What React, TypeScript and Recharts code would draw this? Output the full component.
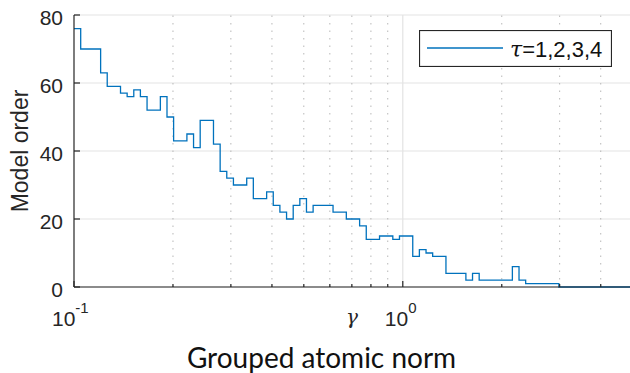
import React from "react";
import { CartesianGrid, Legend, Line, LineChart, ReferenceLine, XAxis, YAxis } from "recharts";

// gamma grid (log spaced, 0.1 .. ~5) and the model order picked at each gamma
const gamma = [
  0.1, 0.1048, 0.1097, 0.115, 0.1205, 0.1262, 0.1322, 0.1385, 0.1451, 0.152,
  0.1592, 0.1668, 0.1748, 0.1831, 0.1918, 0.2009, 0.2105, 0.2205, 0.231, 0.242,
  0.2535, 0.2656, 0.2783, 0.2915, 0.3054, 0.3199, 0.3352, 0.3511, 0.3678, 0.3854,
  0.4037, 0.4229, 0.4431, 0.4642, 0.4863, 0.5094, 0.5337, 0.5591, 0.5857, 0.6136,
  0.6428, 0.6734, 0.7055, 0.7391, 0.7743, 0.8111, 0.8498, 0.8902, 0.9326, 0.977,
  1.0235, 1.0723, 1.1233, 1.1768, 1.2328, 1.2915, 1.353, 1.4175, 1.485, 1.5557,
  1.6298, 1.7074, 1.7886, 1.8738, 1.963, 2.0565, 2.1544, 2.257, 2.3645, 2.4771,
  2.595, 2.7186, 2.848, 2.9836, 3.1257, 3.2745, 3.4305, 3.5938, 3.7649, 3.9442,
  4.132, 4.3288, 4.5349, 4.7508, 4.977,
];

const modelOrder = [
  76, 70, 70, 70, 63, 59, 59, 57, 56, 58,
  56, 52, 52, 56, 50, 43, 43, 45, 41, 49,
  49, 42, 34, 32, 30, 30, 32, 26, 26, 28,
  24, 22, 20, 24, 26, 22, 24, 24, 24, 22,
  22, 20, 20, 18, 14, 14, 15, 15, 14, 15,
  15, 9, 11, 10, 9, 9, 4, 4, 4, 2,
  4, 2, 2, 2, 2, 2, 6, 2, 1, 1,
  1, 1, 1, 0, 0, 0, 0, 0, 0, 0,
  0, 0, 0, 0, 0,
];

const xTicks = [0.1, 0.2, 0.3, 0.4, 0.5, 0.6, 0.7, 0.8, 0.9, 1, 2, 3, 4];
const minorGrid = [0.2, 0.3, 0.4, 0.5, 0.6, 0.7, 0.8, 0.9, 2, 3, 4];
const majorGrid = [1];
const yTicks = [0, 20, 40, 60, 80];
const seriesName = "=1,2,3,4";

const data = gamma.map((g, i) => ({ gamma: g, order: modelOrder[i] }));

const AXIS = "#262626";
const BLUE = "#0072BD";
const SANS = "Arial, 'Liberation Sans', Helvetica, sans-serif";

function GammaTick(props: any) {
  const { x, y, payload } = props;
  const v = payload.value;
  const major = v === 0.1 || v === 1;
  return (
    <g>
      <line x1={x} x2={x} y1={y} y2={y - (major ? 6 : 3)} stroke={AXIS} strokeWidth={1.2} />
      {major ? (
        <text x={x + (v === 1 ? -18 : -22)} y={y + 39} fill={AXIS} style={{ fontFamily: SANS }} fontSize={21}>
          <tspan>10</tspan>
          <tspan dy={-13} fontSize={15}>
            {v === 1 ? "0" : "-1"}
          </tspan>
        </text>
      ) : null}
    </g>
  );
}

function OrderTick(props: any) {
  const { x, y, payload } = props;
  return (
    <g>
      <line x1={x} x2={x + 6} y1={y} y2={y} stroke={AXIS} strokeWidth={1.2} />
      <text x={x - 11} y={y + 10} textAnchor="end" fill={AXIS} style={{ fontFamily: SANS }} fontSize={21}>
        {payload.value}
      </text>
    </g>
  );
}

function XLabel(props: any) {
  const vb = props.viewBox || { x: 74, y: 287 };
  return (
    <g>
      <text
        x={vb.x + 272}
        y={vb.y + 37}
        fill={AXIS}
        style={{ fontFamily: "'DejaVu Serif', serif", fontStyle: "italic" }}
        fontSize={20}
      >
        γ
      </text>
      <text
        x={vb.x + 247.5}
        y={vb.y + 81}
        textAnchor="middle"
        fill="#111"
        style={{ fontFamily: "Lato, sans-serif" }}
        fontSize={28}
      >
        Grouped atomic norm
      </text>
    </g>
  );
}

function YLabel(props: any) {
  const vb = props.viewBox || { x: 0, y: 15, height: 272 };
  const cy = vb.y + vb.height / 2;
  return (
    <text
      x={28}
      y={cy}
      transform={`rotate(-90, 28, ${cy})`}
      textAnchor="middle"
      fill={AXIS}
      style={{ fontFamily: SANS }}
      fontSize={23}
    >
      Model order
    </text>
  );
}

function LegendBox() {
  return (
    <svg width={193} height={37} style={{ display: "block" }}>
      <rect x={0.5} y={0.5} width={192} height={36} fill="#fff" stroke={AXIS} strokeWidth={1.2} />
      <line x1={8} x2={84} y1={18} y2={18} stroke={BLUE} strokeWidth={1.3} />
      <text x={91} y={27} fill="#111" fontSize={22}>
        <tspan style={{ fontFamily: "'DejaVu Serif', serif", fontStyle: "italic" }}>τ</tspan>
        <tspan style={{ fontFamily: SANS }}>{seriesName}</tspan>
      </text>
    </svg>
  );
}

export default function App() {
  return (
    <div style={{ position: "absolute", left: 0, top: 0, width: 630, height: 373, background: "#fff" }}>
      <LineChart width={630} height={373} data={data} margin={{ top: 15, right: 0, bottom: 0, left: 0 }}>
        <CartesianGrid vertical={false} stroke="#e3e3e3" strokeWidth={1.2} />
        {minorGrid.map((v) => (
          <ReferenceLine key={v} x={v} stroke="#b8b8b8" strokeWidth={1} strokeDasharray="1.5 6" />
        ))}
        {majorGrid.map((v) => (
          <ReferenceLine key={v} x={v} stroke="#e3e3e3" strokeWidth={1.2} />
        ))}
        <Line
          dataKey="order"
          type="stepAfter"
          stroke={BLUE}
          strokeWidth={1.3}
          dot={false}
          activeDot={false}
          isAnimationActive={false}
        />
        <XAxis
          dataKey="gamma"
          type="number"
          scale="log"
          domain={[0.1, 4.91]}
          allowDataOverflow
          ticks={xTicks}
          interval={0}
          height={86}
          tickSize={0}
          tickMargin={0}
          tickLine={false}
          axisLine={{ stroke: AXIS, strokeWidth: 1.2 }}
          tick={<GammaTick />}
          label={<XLabel />}
        />
        <YAxis
          type="number"
          domain={[0, 80]}
          ticks={yTicks}
          interval={0}
          width={74}
          tickSize={0}
          tickMargin={0}
          tickLine={false}
          axisLine={{ stroke: AXIS, strokeWidth: 1.2 }}
          tick={<OrderTick />}
          label={<YLabel />}
        />
        <Legend
          layout="vertical"
          align="center"
          verticalAlign="middle"
          content={() => <LegendBox />}
          wrapperStyle={{ position: "absolute", left: 419, top: 30, width: 193, height: 37 }}
        />
      </LineChart>
    </div>
  );
}
